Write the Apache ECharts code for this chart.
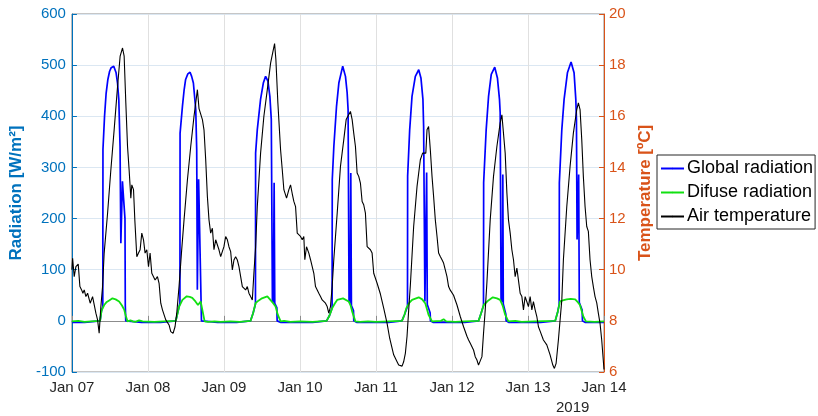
<!DOCTYPE html>
<html>
<head>
<meta charset="utf-8">
<script src="https://cdn.jsdelivr.net/npm/echarts@6/dist/echarts.min.js"></script>
<style>
  html, body { margin: 0; padding: 0; background: #fff; }
  #chart { width: 818px; height: 416px; }
</style>
</head>
<body>
<div id="chart"></div>
<script>
// Tick labels for the time axis (one per day, midnight), plus the year note
const tickLabels = ['Jan 07', 'Jan 08', 'Jan 09', 'Jan 10', 'Jan 11', 'Jan 12', 'Jan 13', 'Jan 14'];
const yearLabel = '2019';
const seriesNames = ['Global radiation', 'Difuse radiation', 'Air temperature'];

// Global radiation [W/m2]: [hours since Jan 07 00:00, value]
const globalRadiation = [
  [0, -3], [4, -3], [8.9, 0], [9.35, 20], [9.75, 28], [9.8, 335], [10.3, 400], [10.8, 445], [11.35, 472],
  [11.9, 488], [12.4, 495], [13.2, 498], [13.95, 485], [14.4, 465], [14.8, 433], [15.2, 340], [15.45, 152],
  [15.95, 273], [16.3, 240], [16.75, 200], [16.85, 30], [17.0, 0], [17.6, -3], [22, -3],
  [28, -3], [32.8, 0], [33.85, 28], [34.1, 35], [34.15, 367], [34.9, 420], [35.4, 450], [35.9, 472],
  [36.6, 483], [37.3, 486], [37.8, 478], [38.35, 465], [39.1, 413], [39.4, 335], [39.6, 61], [40.0, 277],
  [40.45, 139], [40.9, 0], [41.5, -3], [46, -3],
  [52, -3], [56.4, 0], [57.2, 15], [57.95, 33], [58.0, 328], [58.53, 374], [59.56, 433], [60.43, 465],
  [61.15, 478], [61.88, 469], [62.5, 439], [62.95, 394], [63.3, 40], [63.6, 36], [63.85, 270], [64.05, 34],
  [64.7, 26], [64.8, 0], [66, -3], [72, -3],
  [76, -3], [80.4, 0], [81.3, 10], [82.15, 25], [82.2, 276], [82.7, 341], [83.55, 420], [84.28, 465],
  [85.5, 498], [86.37, 478], [86.9, 446], [87.2, 413], [87.5, 38], [87.85, 34], [88.05, 289], [88.25, 30],
  [88.9, 20], [89.0, 0], [90, -3], [96, -3],
  [100, -3], [104.2, 0], [105.0, 12], [105.95, 28], [106.0, 283], [106.65, 374], [107.38, 439], [108.43, 478],
  [109.5, 491], [110.2, 475], [110.83, 433], [111.05, 380], [111.45, 38], [111.85, 35], [112.0, 290], [112.2, 32],
  [113.1, 16], [113.2, 0], [114, -3], [120, -3],
  [124, -3], [128.4, 0], [129.2, 15], [129.95, 30], [130.0, 270], [130.8, 374], [131.55, 439], [132.4, 482],
  [133.5, 496], [134.35, 475], [135.0, 433], [135.22, 407], [135.5, 42], [135.9, 37], [136.05, 286], [136.2, 33],
  [137.0, 13], [137.1, 0], [138, -3], [144, -3],
  [148, -3], [152.6, 0], [153.4, 18], [153.85, 32], [153.9, 270], [154.68, 374], [155.4, 433], [156.45, 485],
  [157.6, 506], [158.55, 485], [159.1, 433], [159.3, 394], [159.5, 159], [160.0, 286], [160.2, 36],
  [161.1, 21], [161.2, 0], [162, -3], [168, -3]
];

// Diffuse radiation [W/m2]: [hours since Jan 07 00:00, value]
const diffuseRadiation = [
  [0, -1], [2, 0], [4, -2], [6, -1], [8.9, 0], [9.35, 20], [10.2, 31], [11.0, 37], [11.77, 40], [12.8, 44],
  [13.8, 42], [14.9, 38], [15.8, 30], [16.5, 22], [17.0, 10], [17.55, -1], [18.5, 1], [19.2, -1], [20.0, -2],
  [21.2, 1], [21.75, 2], [22.3, -1],
  [26, -2], [29, -1], [32.8, 0], [33.85, 28], [34.9, 41], [36.25, 48], [37.2, 47], [38.0, 45], [39.0, 38],
  [39.8, 31], [40.65, 38], [41.9, -1], [43, -2], [45, -1], [47, -2],
  [50, -1], [53, -2], [56.4, 0], [57.2, 15], [58.0, 35], [59.0, 40], [60.0, 44], [61.7, 48], [62.8, 40],
  [63.6, 34], [64.3, 28], [65.0, 12], [65.9, -1], [67, 0], [69, -2],
  [72, -1], [76, -2], [80.4, 0], [81.3, 10], [82.2, 25], [83.0, 34], [83.75, 41], [85.6, 44], [87.4, 38],
  [88.0, 30], [88.5, 18], [89.5, -1], [91, -2], [93.5, -1],
  [96, -2], [100, -1], [104.2, 0], [105.0, 12], [105.6, 25], [106.5, 35], [107.4, 41], [109.5, 46], [110.6, 42],
  [111.6, 34], [112.6, 12], [113.7, -1], [116.5, 0], [117.35, 3], [118.2, -1], [121, -2], [124, -1],
  [128.4, 0], [129.2, 15], [130.0, 31], [131.5, 40], [132.9, 46], [134.2, 44], [135.2, 41], [136.0, 30],
  [136.8, 12], [137.8, -1], [140, 0], [142, -2], [146, -1],
  [152.6, 0], [153.4, 18], [154.1, 38], [155.0, 40], [156.2, 42], [157.5, 43], [158.9, 42], [159.8, 36],
  [160.4, 31], [161.5, 8], [162.3, -1], [165, -2], [168, -1]
];

// Air temperature [degC]: [hours since Jan 07 00:00, value]
const airTemperature = [
  [0, 10.0], [0.22, 10.45], [0.72, 9.73], [1.26, 10.12], [1.99, 10.22], [2.52, 9.34], [3.06, 9.21], [3.47, 9.08],
  [3.88, 9.21], [4.41, 8.95], [4.95, 9.08], [5.77, 8.69], [6.52, 8.95], [7.03, 9.01], [7.57, 8.3], [8.1, 8.04],
  [8.6, 7.52], [9.14, 8.56], [9.68, 9.34], [10.18, 10.65], [11.25, 12.2], [12.29, 13.9], [13.33, 15.47],
  [14.41, 17.17], [15.22, 18.35], [15.98, 18.67], [16.49, 18.35], [17.02, 16.52], [17.56, 14.82], [18.06, 13.9],
  [18.6, 12.8], [18.91, 13.32], [19.45, 13.13], [19.86, 11.95], [20.49, 10.51], [21.02, 10.65], [21.53, 10.78],
  [22.06, 11.43], [22.6, 11.17], [23.1, 10.65], [23.64, 10.78], [24.18, 10.12], [24.68, 10.65], [25.22, 9.86],
  [25.75, 9.93], [26.26, 9.6], [27.0, 9.73], [27.52, 9.47], [28.05, 8.69], [28.59, 8.43], [29.63, 8.04],
  [30.17, 7.97], [30.67, 7.84], [31.21, 7.58], [31.93, 7.51], [32.56, 7.77], [33.1, 8.3], [33.82, 9.34],
  [34.58, 10.65], [35.4, 11.95], [36.47, 13.52], [37.51, 14.82], [38.55, 16.0], [39.09, 16.52], [39.62, 17.04],
  [40.13, 16.3], [40.66, 16.26], [41.2, 15.87], [41.7, 15.47], [42.24, 14.3], [42.77, 12.86], [43.28, 11.95],
  [43.81, 11.43], [44.35, 11.62], [44.85, 10.78], [45.39, 11.17], [45.93, 11.1], [46.43, 10.78], [46.97, 10.51],
  [47.5, 10.45], [48.0, 10.9], [48.54, 11.3], [49.08, 11.17], [49.58, 10.9], [50.12, 10.71], [50.65, 9.99],
  [51.16, 10.38], [51.69, 10.51], [52.23, 10.38], [52.74, 10.12], [53.27, 10.06], [53.81, 9.34], [54.31, 9.41],
  [54.85, 9.21], [55.38, 9.34], [55.89, 9.08], [56.42, 8.95], [56.96, 8.82], [57.46, 9.86], [58.0, 10.9],
  [58.53, 12.47], [59.57, 14.56], [60.61, 16.0], [61.69, 17.04], [62.73, 18.08], [63.58, 18.6], [63.99, 18.84],
  [64.4, 18.22], [65.03, 16.52], [65.88, 14.69], [66.42, 13.9], [66.92, 13.13], [67.77, 12.8], [68.5, 13.13],
  [69.03, 13.32], [69.57, 12.97], [70.07, 12.67], [70.61, 12.47], [71.14, 11.43], [71.65, 11.36], [72.18, 11.3],
  [72.72, 11.17], [73.22, 11.3], [73.54, 10.39], [74.07, 10.9], [74.8, 10.65], [75.34, 10.39], [75.87, 10.12],
  [76.38, 9.86], [76.91, 9.34], [77.45, 9.21], [77.95, 9.08], [78.49, 8.95], [79.02, 8.82], [79.53, 8.75],
  [80.06, 8.69], [80.6, 8.56], [81.1, 8.3], [81.64, 8.56], [82.17, 9.34], [82.68, 10.39], [83.75, 12.2],
  [84.79, 14.04], [85.83, 15.08], [86.59, 15.87], [87.22, 15.93], [87.94, 16.19], [88.48, 15.87], [88.98, 15.34],
  [89.52, 14.82], [90.05, 13.78], [90.56, 13.65], [91.09, 13.39], [91.63, 12.67], [92.13, 12.54], [92.67, 12.21],
  [93.21, 10.9], [94.25, 10.78], [94.78, 10.65], [95.29, 9.86], [96.36, 9.47], [97.4, 9.05], [98.44, 8.5],
  [99.51, 7.9], [100.33, 7.32], [101.59, 6.67], [102.66, 6.4], [103.17, 6.27], [103.7, 6.34], [104.24, 6.23],
  [104.74, 6.4], [105.28, 6.73], [105.81, 7.4], [106.32, 8.4], [106.86, 9.4], [107.9, 11.69], [108.97, 13.26],
  [110.01, 14.3], [110.73, 14.56], [111.27, 14.62], [111.74, 14.56], [112.12, 15.47], [112.62, 15.6],
  [113.16, 14.69], [113.7, 13.65], [114.2, 12.86], [114.74, 11.95], [115.28, 11.3], [115.78, 10.65],
  [116.31, 10.52], [116.85, 10.39], [117.35, 10.26], [117.89, 9.99], [118.42, 9.73], [118.93, 9.34],
  [119.46, 9.2], [120.5, 9.0], [121.58, 8.62], [122.62, 8.17], [123.66, 7.77], [124.73, 7.4], [125.24, 7.25],
  [125.77, 7.12], [126.3, 7.18], [126.81, 6.86], [127.34, 6.6], [127.88, 6.47], [128.38, 6.27], [128.92, 6.23],
  [129.46, 6.6], [129.96, 7.51], [130.5, 8.43], [131.03, 9.5], [132.07, 11.95], [133.11, 13.65], [134.18, 14.82],
  [135.22, 15.74], [135.76, 16.06], [136.27, 16.06], [136.8, 14.56], [137.34, 13.0], [137.84, 11.95],
  [138.38, 11.43], [138.91, 10.78], [139.42, 10.39], [139.95, 9.73], [140.49, 10.06], [140.99, 10.0],
  [141.53, 9.08], [142.07, 8.95], [142.57, 8.43], [143.1, 8.95], [143.64, 8.95], [144.14, 8.56], [144.68, 8.95],
  [145.22, 8.43], [145.72, 8.75], [146.26, 8.43], [146.79, 8.17], [147.3, 7.77], [147.83, 7.6], [148.87, 7.25],
  [149.94, 7.06], [150.98, 6.67], [151.84, 6.27], [152.34, 6.14], [152.88, 6.34], [153.6, 7.25], [154.14, 8.04],
  [154.68, 8.82], [155.18, 10.39], [156.25, 12.47], [157.29, 14.04], [158.33, 15.34], [159.4, 16.26],
  [159.91, 16.52], [160.44, 16.26], [160.98, 15.08], [161.48, 13.65], [162.02, 12.47], [162.55, 11.69],
  [163.06, 11.5], [163.59, 10.39], [164.13, 9.73], [164.63, 9.34], [165.17, 8.95], [165.71, 8.7], [166.21, 8.3],
  [166.75, 7.9], [167.28, 7.25], [168.0, 6.1]
];

const FONT = 'Liberation Sans, Arial, Helvetica, sans-serif';
const LEFT_COLOR = '#0072BD';
const RIGHT_COLOR = '#D95319';
const TEXT_DARK = '#262626';

const chart = echarts.init(document.getElementById('chart'), null, { renderer: 'canvas' });

chart.setOption({
  animation: false,
  backgroundColor: '#ffffff',
  textStyle: { fontFamily: FONT },
  grid: {
    left: 71, right: 214, top: 14, bottom: 44,
    show: true, borderColor: '#8c8c8c', borderWidth: 1, backgroundColor: 'transparent'
  },
  legend: {
    orient: 'vertical',
    left: 657, top: 155,
    data: seriesNames,
    itemWidth: 23, itemHeight: 2, itemGap: 3,
    padding: [3, 2, 2, 3],
    backgroundColor: '#ffffff',
    borderColor: TEXT_DARK, borderWidth: 1, borderRadius: 0,
    textStyle: { fontSize: 18, color: '#000000', fontFamily: FONT, lineHeight: 21, padding: [0, 0, 0, -2] },
    selectedMode: false
  },
  xAxis: {
    type: 'value',
    min: 0, max: 168, interval: 24,
    axisLine: { show: true, lineStyle: { color: '#8c8c8c', width: 1 } },
    axisTick: { show: true, inside: true, length: 5, lineStyle: { color: '#8c8c8c' } },
    axisLabel: {
      fontSize: 15, color: TEXT_DARK, fontFamily: FONT, margin: 8,
      formatter: v => tickLabels[Math.round(v / 24)]
    },
    splitLine: { show: true, lineStyle: { color: '#e0e0e0', width: 1 } }
  },
  yAxis: [
    {
      type: 'value', position: 'left',
      min: -100, max: 600, interval: 100,
      name: 'Radiation [W/m²]', nameLocation: 'middle', nameGap: 39,
      nameTextStyle: { fontSize: 17, fontWeight: 'bold', color: LEFT_COLOR, fontFamily: FONT },
      axisLine: { show: true, lineStyle: { color: LEFT_COLOR, width: 1 } },
      axisTick: { show: true, inside: true, length: 5, lineStyle: { color: LEFT_COLOR } },
      axisLabel: { fontSize: 15, color: LEFT_COLOR, fontFamily: FONT, margin: 6 },
      splitLine: { show: true, lineStyle: { color: '#dbe7f2', width: 1 } }
    },
    {
      type: 'value', position: 'right',
      min: 6, max: 20, interval: 2,
      name: 'Temperature [ºC]', nameLocation: 'middle', nameGap: 25,
      nameRotate: 90,
      nameTextStyle: { fontSize: 17, fontWeight: 'bold', color: RIGHT_COLOR, fontFamily: FONT },
      axisLine: { show: true, lineStyle: { color: RIGHT_COLOR, width: 1 } },
      axisTick: { show: true, inside: true, length: 5, lineStyle: { color: RIGHT_COLOR } },
      axisLabel: { fontSize: 15, color: RIGHT_COLOR, fontFamily: FONT, margin: 5 },
      splitLine: { show: false }
    }
  ],
  graphic: [{
    type: 'text', left: 556, top: 400, silent: true,
    style: { text: yearLabel, font: '15px ' + FONT, fill: TEXT_DARK }
  }],
  series: [
    {
      name: seriesNames[0], type: 'line', yAxisIndex: 0, data: globalRadiation,
      symbol: 'none', showSymbol: false, smooth: false,
      lineStyle: { color: '#0000ff', width: 1.7 }, itemStyle: { color: '#0000ff' }, z: 2
    },
    {
      name: seriesNames[1], type: 'line', yAxisIndex: 0, data: diffuseRadiation,
      symbol: 'none', showSymbol: false, smooth: false,
      lineStyle: { color: '#11e011', width: 1.8 }, itemStyle: { color: '#11e011' }, z: 3
    },
    {
      name: seriesNames[2], type: 'line', yAxisIndex: 1, data: airTemperature,
      symbol: 'none', showSymbol: false, smooth: false,
      lineStyle: { color: '#000000', width: 1.1 }, itemStyle: { color: '#000000' }, z: 4
    }
  ]
});
</script>
</body>
</html>
